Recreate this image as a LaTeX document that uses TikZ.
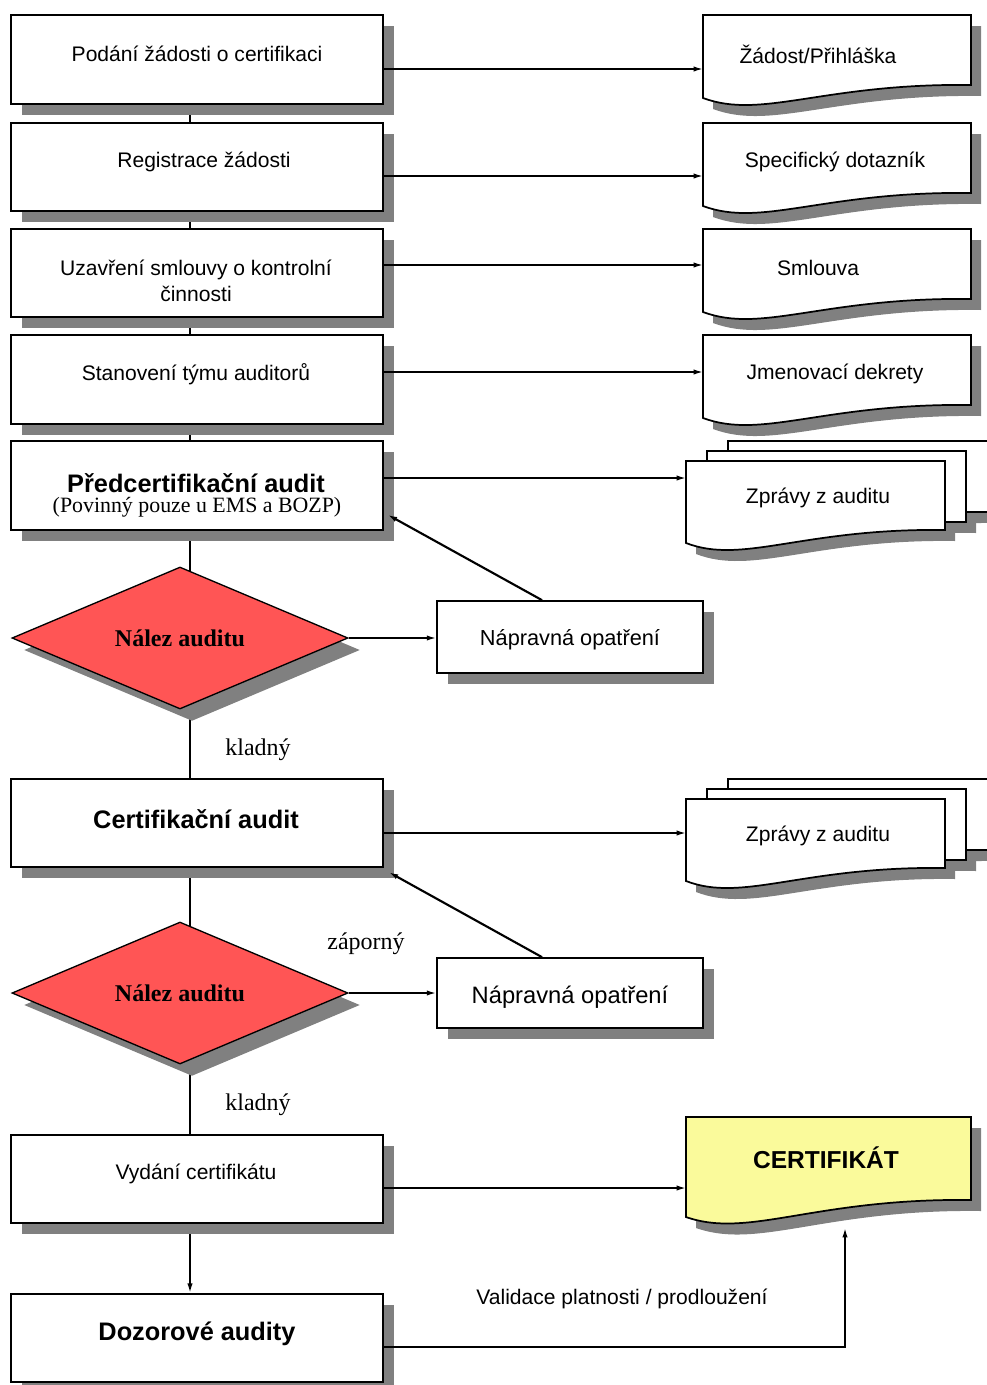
\documentclass[tikz,border=0pt]{standalone}
\usepackage{fontspec}
\setmainfont{Liberation Sans}
\newfontfamily\tnr{Liberation Serif}
\usetikzlibrary{arrows.meta,shapes.geometric,shadows}

\definecolor{shade}{RGB}{128,128,128}
\definecolor{alarm}{RGB}{255,85,85}
\definecolor{certyellow}{RGB}{250,250,155}

\pgfdeclarelayer{background}
\pgfsetlayers{background,main}

% sheet with a wavy lower edge: top-left (#1,#2), right edge x=#3,
% height at the left edge #4, height at the right edge #5
\newcommand\docoutline[5]{(#1,#2) -- (#3,#2) -- (#3,#2+#5)
  .. controls ({#1+0.45*(#3-#1)},{#2+#5-2}) and ({#1+0.22*(#3-#1)},{#2+#4+22}) ..
  (#1,#2+#4) -- cycle}

\begin{document}
\begin{tikzpicture}[x=0.75pt,y=-0.75pt,
  line/.style={line width=1.3pt},
  arr/.style={line width=1.2pt,-{Latex[length=7pt,width=4pt]}},
  back/.style={line width=1.6pt,-{Latex[length=7pt,width=4pt]}},
  shadowed/.style={drop shadow={shadow xshift=8.25pt,shadow yshift=-8.25pt,fill=shade,opacity=1}},
  box/.style={rectangle,draw,line width=1.3pt,fill=white,inner sep=0pt,
    minimum width=279pt,minimum height=66.5pt,shadowed},
  fixbox/.style={rectangle,draw,line width=1.3pt,fill=white,inner sep=0pt,
    minimum width=199.5pt,shadowed},
  decision/.style={diamond,aspect=2.4,draw,line width=1pt,fill=alarm,inner sep=0pt,
    minimum width=252pt,minimum height=106.5pt,
    drop shadow={shadow xshift=9pt,shadow yshift=-9pt,fill=shade,opacity=1},
    font=\tnr\bfseries\fontsize{18}{20}\selectfont},
  sheet/.style={draw,line width=1.3pt,fill=white},
  sheetshadow/.style={fill=shade,shift={(10,11)}},
  txt/.style={inner sep=0pt,align=center,font=\fontsize{15.8}{19.5}\selectfont},
  bold/.style={inner sep=0pt,align=center,font=\bfseries\fontsize{19}{22}\selectfont},
  serif/.style={inner sep=0pt,font=\tnr\fontsize{18}{20}\selectfont}]

\useasboundingbox (0,0) rectangle (986,1385);

% process steps on the left
\node[box] (b1) at (197,59.5) {};
\node[box] (b2) at (197,167) {};
\node[box] (b3) at (197,273) {};
\node[box] (b4) at (197,379.5) {};
\node[box] (b5) at (197,485.5) {};
\node[box] (b6) at (197,823) {};
\node[box] (b7) at (197,1179) {};
\node[box] (b8) at (197,1338) {};

% decisions and corrective actions
\node[decision] (q1) at (180,638) {Nález auditu};
\node[decision] (q2) at (180,993) {Nález auditu};
\node[fixbox,minimum height=54pt] (n1) at (570,637) {};
\node[fixbox,minimum height=52.5pt] (n2) at (570,993) {};

% vertical flow along the left column
\coordinate (spine) at (190,0);
\begin{pgfonlayer}{background}
  \draw[line] (b1.south -| spine) -- (b2.north -| spine);
  \draw[line] (b2.south -| spine) -- (b3.north -| spine);
  \draw[line] (b3.south -| spine) -- (b4.north -| spine);
  \draw[line] (b4.south -| spine) -- (b5.north -| spine);
  \draw[line] (b5.south -| spine) -- (q1.center -| spine) -- (b6.north -| spine);
  \draw[line] (b6.south -| spine) -- (q2.center -| spine) -- (b7.north -| spine);
  \draw[arr] (b7.south -| spine) -- (b8.north -| spine);
\end{pgfonlayer}

% shadows of the documents
\fill[sheetshadow] \docoutline{703}{15}{971}{83}{70};
\fill[sheetshadow] \docoutline{703}{123}{971}{83}{70};
\fill[sheetshadow] \docoutline{703}{229}{971}{83}{70};
\fill[sheetshadow] \docoutline{703}{335}{971}{83}{70};
\fill[sheetshadow] \docoutline{728}{441}{995}{82}{71};
\fill[sheetshadow] \docoutline{707}{451}{966}{82}{71};
\fill[sheetshadow] \docoutline{686}{461}{945}{82}{69};
\fill[sheetshadow] \docoutline{728}{779}{995}{82}{71};
\fill[sheetshadow] \docoutline{707}{789}{966}{82}{71};
\fill[sheetshadow] \docoutline{686}{799}{945}{82}{69};
\fill[sheetshadow] \docoutline{686}{1117}{971}{100}{83};

% documents
\draw[sheet] \docoutline{703}{15}{971}{83}{70};
\draw[sheet] \docoutline{703}{123}{971}{83}{70};
\draw[sheet] \docoutline{703}{229}{971}{83}{70};
\draw[sheet] \docoutline{703}{335}{971}{83}{70};
\draw[sheet] \docoutline{728}{441}{995}{82}{71};
\draw[sheet] \docoutline{707}{451}{966}{82}{71};
\draw[sheet] \docoutline{686}{461}{945}{82}{69};
\draw[sheet] \docoutline{728}{779}{995}{82}{71};
\draw[sheet] \docoutline{707}{789}{966}{82}{71};
\draw[sheet] \docoutline{686}{799}{945}{82}{69};
\draw[sheet,fill=certyellow] \docoutline{686}{1117}{971}{100}{83};

% where the arrows meet the documents
\coordinate (d1) at (703,69);
\coordinate (d2) at (703,176);
\coordinate (d3) at (703,265);
\coordinate (d4) at (703,372);
\coordinate (d5) at (686,478);
\coordinate (d6) at (686,833);
\coordinate (d7) at (686,1188);
\coordinate (cb) at (845,1228);

\draw[arr] (b1.east |- d1) -- (d1);
\draw[arr] (b2.east |- d2) -- (d2);
\draw[arr] (b3.east |- d3) -- (d3);
\draw[arr] (b4.east |- d4) -- (d4);
\draw[arr] (b5.east |- d5) -- (d5);
\draw[arr] (b6.east |- d6) -- (d6);
\draw[arr] (b7.east |- d7) -- (d7);

\draw[arr] (q1.east) -- (q1.east -| n1.west);
\draw[arr] (q2.east) -- (q2.east -| n2.west);
\draw[back] ([xshift=-21pt]n1.north) -- ([xshift=3pt,yshift=-22pt]b5.east);
\draw[back] ([xshift=-21pt]n2.north) -- ([xshift=3.75pt,yshift=-3pt]b6.south east);
\draw[arr] ([yshift=-6.75pt]b8.east) -| (cb);

% texts of the steps
\node[txt] (t1) at (197,54) {Podání žádosti o certifikaci};
\node[txt] (t2) at (204,162) {Registrace žádosti};
\node[txt] (t3) at (196,281) {Uzavření smlouvy o kontrolní\\činnosti};
\node[txt] (t4) at (196,374) {Stanovení týmu auditorů};
\node[bold] (t5) at (196,483) {Předcertifikační audit};
\node[inner sep=0pt,font=\tnr\fontsize{16.4}{18}\selectfont] (t5b) at (197,507) {(Povinný pouze u EMS a BOZP)};
\node[bold] (t6) at (196,819) {Certifikační audit};
\node[txt] (t7) at (196,1174) {Vydání certifikátu};
\node[bold] (t8) at (197,1334) {Dozorové audity};

\node[txt,font=\fontsize{16.3}{19}\selectfont] (tn1) at (570,640) {Nápravná opatření};
\node[txt,font=\fontsize{17.8}{20}\selectfont] (tn2) at (570,997) {Nápravná opatření};

% texts of the documents
\node[txt] (td1) at (818,54) {Žádost/Přihláška};
\node[txt] (td2) at (835,162) {Specifický dotazník};
\node[txt] (td3) at (818,268) {Smlouva};
\node[txt] (td4) at (835,374) {Jmenovací dekrety};
\node[txt] (td5) at (818,498) {Zprávy z auditu};
\node[txt] (td6) at (818,836) {Zprávy z auditu};
\node[inner sep=0pt,font=\bfseries\fontsize{18.4}{20}\selectfont] (td7) at (826,1158) {CERTIFIKÁT};

% connector labels
\node[serif] (l1) at (258,750) {kladný};
\node[serif] (l2) at (366,944) {záporný};
\node[serif] (l3) at (258,1105) {kladný};
\node[txt] (l4) at (622,1299) {Validace platnosti / prodloužení};

\end{tikzpicture}
\end{document}
